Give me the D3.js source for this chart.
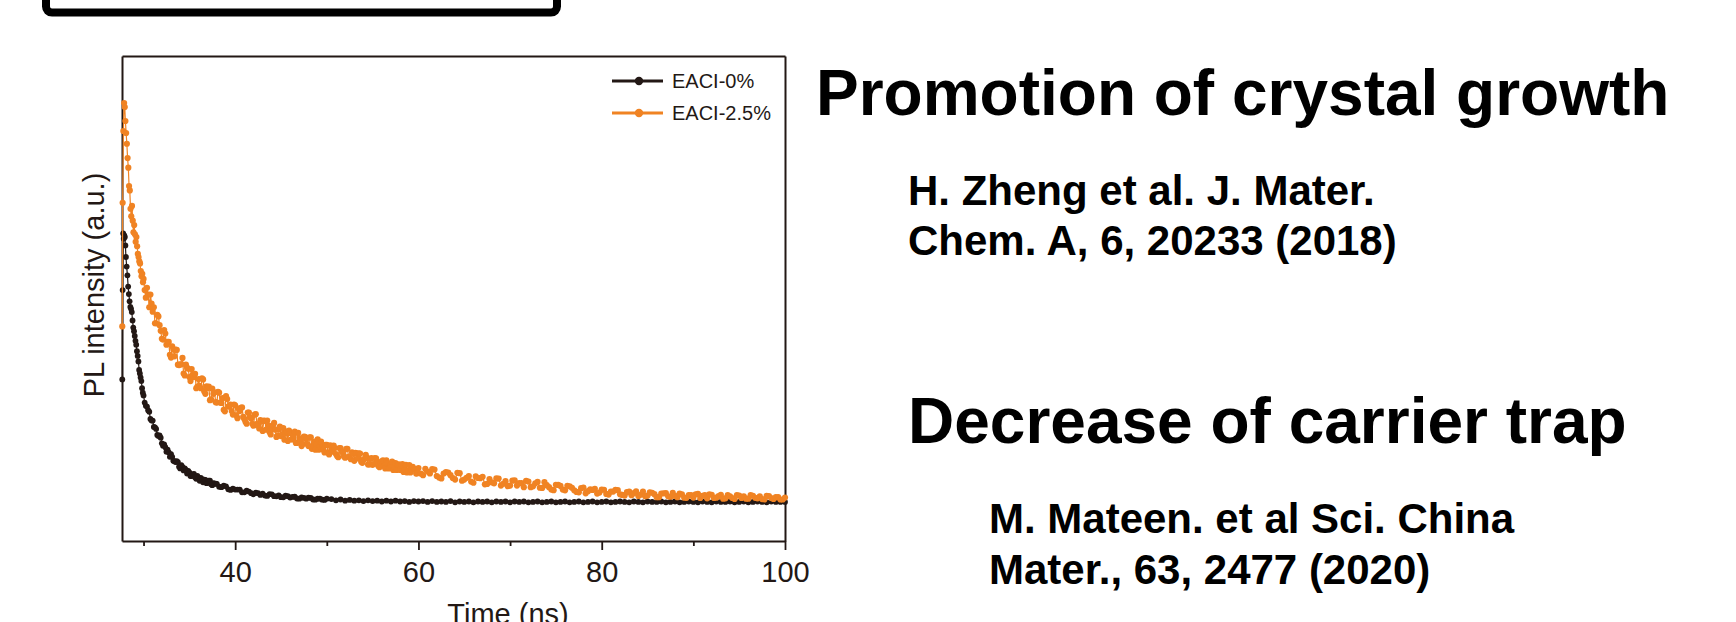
<!DOCTYPE html>
<html>
<head>
<meta charset="utf-8">
<script src="https://cdn.jsdelivr.net/npm/d3@7"></script>
<style>
  html, body { margin: 0; padding: 0; background: #fff; }
  svg { display: block; }
</style>
</head>
<body>
<svg id="chart" width="1736" height="622"></svg>
<script>
// ---- Data: time-resolved PL decay (time in ns, intensity in a.u.) ----
const seriesNames = ["EACI-0%", "EACI-2.5%"];
const xTicksMajor = [40, 60, 80, 100];
const xTicksMinor = [30, 50, 70, 90];

// EACI-0% : main sampling
const blackTime = [
  27.68,27.72,27.78,27.84,27.90,27.96,28.02,28.08,28.16,28.24,28.32,28.40,28.48,28.56,28.64,28.72,
  28.80,28.88,28.96,29.04,29.12,29.20,29.28,29.36,29.44,29.52,29.60,29.68,29.76,29.84,29.92,
  30,30.25,30.5,30.75,31,31.25,31.5,31.75,32,32.25,32.5,32.75,33,33.25,33.5,33.75,
  34,34.25,34.5,34.75,35,35.25,35.5,35.75,36,36.25,36.5,36.75,37,37.25,37.5,37.75,
  38,38.5,39,39.5,40,40.5,41,41.5,42,42.5,43,43.5,44,44.5,45,45.5,46,46.5,47,47.5,
  48,48.5,49,49.5,50,50.5,51,51.5,52,52.5,53,53.5,54,54.5,55,55.5,56,56.5,57,57.5,
  58,58.5,59,59.5,60,60.5,61,61.5,62,62.5,63,63.5,64,64.5,65,65.5,66,66.5,67,67.5,
  68,68.5,69,69.5,70,70.5,71,71.5,72,72.5,73,73.5,74,74.5,75,75.5,76,76.5,77,77.5,
  78,78.5,79,79.5,80,80.5,81,81.5,82,82.5,83,83.5,84,84.5,85,85.5,86,86.5,87,87.5,
  88,88.5,89,89.5,90,90.5,91,91.5,92,92.5,93,93.5,94,94.5,95,95.5,96,96.5,97,97.5,
  98,98.5,99,99.5,100
];
const blackPL = [
  0.307,0.531,0.673,0.660,0.668,0.664,0.643,0.614,0.590,0.568,0.540,0.521,0.503,0.489,0.484,0.476,
  0.455,0.437,0.428,0.416,0.404,0.394,0.378,0.366,0.352,0.331,0.322,0.312,0.303,0.285,0.274,
  0.267,0.241,0.230,0.208,0.204,0.187,0.168,0.167,0.147,0.144,0.126,0.124,0.120,0.103,0.100,0.100,
  0.084,0.088,0.084,0.071,0.074,0.065,0.070,0.058,0.060,0.060,0.049,0.055,0.048,0.053,0.042,0.046,
  0.045,0.037,0.039,0.030,0.031,0.031,0.024,0.026,0.019,0.022,0.021,0.015,0.019,0.014,0.012,0.016,0.011,0.013,0.008,0.010,
  0.0105,0.006,0.008,0.0055,0.008,0.007,0.004,0.006,0.003,0.005,0.003,0.004,0.002,0.004,0.002,0.003,0.001,0.003,0.001,0.003,
  0.001,0.002,0.000,0.002,0.001,0.002,0.000,0.002,0.000,0.001,0.000,0.002,-0.001,0.001,0.000,0.001,-0.001,0.001,0.000,0.001,
  -0.001,0.001,0.000,0.001,-0.001,0.001,0.000,0.001,-0.001,0.000,0.001,-0.001,0.000,0.001,-0.001,0.000,0.001,-0.001,0.000,0.001,
  -0.001,0.000,0.001,-0.001,0.000,0.001,-0.001,0.000,0.001,0.000,-0.001,0.001,0.000,-0.001,0.001,0.000,0.000,0.001,-0.001,0.000,
  0.001,-0.001,0.000,0.001,0.000,-0.001,0.001,0.000,-0.001,0.001,0.000,0.000,0.001,-0.001,0.000,0.001,-0.001,0.000,0.001,0.000,
  -0.001,0.001,0.000,0.000,0.000
];
// EACI-0% : in-between channels of the fast-decay region
const blackTimeMid = [
  30.125,30.375,30.625,30.875,31.125,31.375,31.625,31.875,32.125,32.375,32.625,32.875,33.125,33.375,33.625,33.875,
  34.125,34.375,34.625,34.875,35.125,35.375,35.625,35.875,36.125,36.375,36.625,36.875,37.125,37.375,37.625,37.875,
  38.25,38.75,39.25,39.75,40.25,40.75,41.25,41.75,42.25,42.75,43.25,43.75,44.25,44.75,45.25,45.75,
  46.25,46.75,47.25,47.75,48.25,48.75,49.25,49.75
];
const blackPLMid = [
  0.249,0.239,0.226,0.204,0.188,0.183,0.165,0.161,0.141,0.137,0.131,0.113,0.113,0.102,0.102,0.088,
  0.092,0.079,0.080,0.078,0.065,0.069,0.062,0.065,0.053,0.057,0.056,0.047,0.053,0.044,0.047,0.046,
  0.038,0.0405,0.0315,0.0335,0.031,0.024,0.028,0.022,0.023,0.0175,0.016,0.0195,0.0145,0.0165,0.0115,0.0145,
  0.0125,0.0085,0.0115,0.008,0.010,0.0055,0.008,0.005
];

// EACI-2.5% : main sampling
const orangeTime = [
  27.68,27.72,27.80,27.88,27.95,28.02,28.10,28.18,28.26,28.34,28.42,28.50,28.58,28.66,28.74,
  28.82,28.90,28.98,29.06,29.14,29.22,29.30,29.38,29.46,29.54,29.62,29.70,29.78,29.86,29.94,
  30,30.25,30.5,30.75,31,31.25,31.5,31.75,32,32.25,32.5,32.75,33,33.25,33.5,33.75,34,34.25,34.5,34.75,
  35,35.25,35.5,35.75,36,36.25,36.5,36.75,37,37.25,37.5,37.75,38,38.25,38.5,38.75,39,39.25,39.5,39.75,
  40,40.25,40.5,40.75,41,41.25,41.5,41.75,42,42.25,42.5,42.75,43,43.25,43.5,43.75,44,44.25,44.5,44.75,
  45,45.25,45.5,45.75,46,46.25,46.5,46.75,47,47.25,47.5,47.75,48,48.25,48.5,48.75,49,49.25,49.5,49.75,
  50,50.25,50.5,50.75,51,51.25,51.5,51.75,52,52.25,52.5,52.75,53,53.25,53.5,53.75,54,54.25,54.5,54.75,
  55,55.25,55.5,55.75,56,56.25,56.5,56.75,57,57.25,57.5,57.75,58,58.25,58.5,58.75,59,59.25,59.5,59.75,
  60,60.5,61,61.5,62,62.5,63,63.5,64,64.5,65,65.5,66,66.5,67,67.5,68,68.5,69,69.5,
  70,70.5,71,71.5,72,72.5,73,73.5,74,74.5,75,75.5,76,76.5,77,77.5,78,78.5,79,79.5,
  80,80.5,81,81.5,82,82.5,83,83.5,84,84.5,85,85.5,86,86.5,87,87.5,88,88.5,89,89.5,
  90,90.5,91,91.5,92,92.5,93,93.5,94,94.5,95,95.5,96,96.5,97,97.5,98,98.5,99,99.5,100
];
const orangePL = [
  0.440,0.750,0.930,1.000,0.990,0.955,0.925,0.898,0.862,0.838,0.792,0.781,0.735,0.716,0.742,
  0.705,0.676,0.694,0.671,0.652,0.664,0.641,0.622,0.614,0.603,0.598,0.579,0.566,0.572,0.551,
  0.559,0.512,0.520,0.520,0.477,0.448,0.469,0.443,0.409,0.431,0.394,0.401,0.362,0.382,0.382,0.344,0.345,0.361,0.317,0.336,
  0.313,0.333,0.313,0.285,0.308,0.285,0.307,0.271,0.285,0.255,0.284,0.275,0.249,0.274,0.248,0.231,0.265,0.239,0.244,0.219,
  0.242,0.210,0.228,0.237,0.208,0.196,0.224,0.209,0.191,0.220,0.192,0.205,0.178,0.203,0.204,0.175,0.182,0.198,0.163,0.182,
  0.165,0.185,0.171,0.153,0.173,0.157,0.176,0.148,0.160,0.140,0.164,0.158,0.140,0.162,0.142,0.131,0.157,0.139,0.143,0.124,
  0.143,0.119,0.134,0.141,0.120,0.112,0.135,0.124,0.111,0.133,0.113,0.124,0.103,0.122,0.122,0.101,0.106,0.118,0.094,0.108,
  0.093,0.110,0.099,0.087,0.102,0.090,0.104,0.084,0.093,0.080,0.097,0.093,0.080,0.095,0.081,0.074,0.092,0.080,0.083,0.071,
  0.085,0.067,0.076,0.082,0.065,0.059,0.075,0.067,0.056,0.072,0.056,0.065,0.048,0.060,0.063,0.045,0.049,0.059,0.041,0.052,
  0.041,0.054,0.047,0.037,0.051,0.039,0.050,0.035,0.042,0.031,0.043,0.040,0.029,0.039,0.029,0.024,0.036,0.027,0.030,0.021,
  0.031,0.020,0.026,0.030,0.019,0.016,0.026,0.022,0.015,0.026,0.016,0.023,0.012,0.021,0.022,0.013,0.015,0.021,0.0105,0.017,
  0.011,0.020,0.0155,0.009,0.018,0.0105,0.018,0.009,0.014,0.0075,0.016,0.014,0.008,0.0155,0.009,0.007,0.015,0.0095,0.012,0.006,0.011
];
// EACI-2.5% : in-between channels
const orangeTimeMid = [
  30.125,30.375,30.625,30.875,31.125,31.375,31.625,31.875,32.125,32.375,32.625,32.875,33.125,33.375,33.625,33.875,
  34.125,34.375,34.625,34.875,35.125,35.375,35.625,35.875,36.125,36.375,36.625,36.875,37.125,37.375,37.625,37.875,
  38.125,38.375,38.625,38.875,39.125,39.375,39.625,39.875,
  40.125,40.375,40.625,40.875,41.125,41.375,41.625,41.875,42.125,42.375,42.625,42.875,43.125,43.375,43.625,43.875,
  44.125,44.375,44.625,44.875,45.125,45.375,45.625,45.875,46.125,46.375,46.625,46.875,47.125,47.375,47.625,47.875,
  48.125,48.375,48.625,48.875,49.125,49.375,49.625,49.875,
  50.125,50.375,50.625,50.875,51.125,51.375,51.625,51.875,52.125,52.375,52.625,52.875,53.125,53.375,53.625,53.875,
  54.125,54.375,54.625,54.875,55.125,55.375,55.625,55.875,56.125,56.375,56.625,56.875,57.125,57.375,57.625,57.875,
  58.125,58.375,58.625,58.875,59.125,59.375,59.625,59.875,
  60.25,60.75,61.25,61.75,62.25,62.75,63.25,63.75,64.25,64.75,65.25,65.75,66.25,66.75,67.25,67.75,68.25,68.75,69.25,69.75,
  70.25,70.75,71.25,71.75,72.25,72.75,73.25,73.75,74.25,74.75,75.25,75.75,76.25,76.75,77.25,77.75,78.25,78.75,79.25,79.75,
  80.25,80.75,81.25,81.75,82.25,82.75,83.25,83.75,84.25,84.75,85.25,85.75,86.25,86.75,87.25,87.75,88.25,88.75,89.25,89.75,
  90.25,90.75,91.25,91.75,92.25,92.75,93.25,93.75,94.25,94.75,95.25,95.75,96.25,96.75,97.25,97.75,98.25,98.75,99.25,99.75
];
const orangePLMid = [
  0.531,0.537,0.488,0.497,0.488,0.448,0.465,0.429,0.407,0.422,0.401,0.369,0.390,0.365,0.381,0.343,
  0.345,0.322,0.344,0.334,0.303,0.319,0.321,0.289,0.291,0.310,0.277,0.290,0.289,0.257,0.271,0.250,
  0.276,0.249,0.260,0.227,0.258,0.241,0.228,0.244,
  0.217,0.234,0.236,0.213,0.201,0.224,0.212,0.196,0.219,0.196,0.184,0.202,0.204,0.181,0.192,0.169,
  0.192,0.181,0.166,0.189,0.170,0.156,0.176,0.179,0.157,0.166,0.148,0.173,0.155,0.145,0.163,0.145,
  0.162,0.133,0.151,0.145,0.131,0.151,0.131,0.143,
  0.124,0.142,0.126,0.135,0.115,0.135,0.126,0.114,0.133,0.113,0.107,0.121,0.123,0.109,0.121,0.098,
  0.108,0.111,0.094,0.110,0.095,0.109,0.090,0.099,0.104,0.084,0.096,0.085,0.101,0.087,0.080,0.094,
  0.091,0.075,0.093,0.078,0.074,0.088,0.081,0.072,
  0.071,0.083,0.0715,0.081,0.061,0.071,0.0735,0.060,0.073,0.053,0.0605,0.051,0.064,0.0595,0.044,0.0575,0.0465,0.0585,0.0455,0.0395,
  0.0535,0.041,0.047,0.053,0.037,0.0465,0.0355,0.0495,0.037,0.0295,0.0425,0.031,0.0405,0.0355,0.025,0.0345,0.0215,0.0315,0.033,0.0235,
  0.0305,0.0185,0.026,0.0295,0.0175,0.0245,0.017,0.0265,0.018,0.0145,0.024,0.0195,0.012,0.0215,0.014,0.0225,0.012,0.0188,0.0103,0.017,
  0.019,0.0098,0.0173,0.019,0.0098,0.0143,0.008,0.017,0.0098,0.0173,0.010,0.008,0.0168,0.0103,0.014,0.006,0.0148,0.0073,0.012,0.006
];

// ---- Layout ----
const ink = "#231815";
const colors = ["#231815", "#F08323"];
const markerR = [2.9, 3.1];
const plot = { left: 122, right: 785, top: 56, bottom: 541 };

const svg = d3.select("#chart");
svg.append("rect").attr("width", 1736).attr("height", 622).attr("fill", "#fff");

// rounded frame at the top-left corner
svg.append("rect")
  .attr("x", 46).attr("y", -30).attr("width", 511).attr("height", 42.6)
  .attr("rx", 6).attr("fill", "none").attr("stroke", "#000").attr("stroke-width", 8);

const x = d3.scaleLinear().domain([27.65, 100]).range([plot.left, plot.right]);
const y = d3.scaleLinear().domain([-0.098, 1.118]).range([plot.bottom, plot.top]);

function styleAxis(g) {
  g.select(".domain").attr("stroke", ink).attr("stroke-width", 2);
  g.selectAll(".tick line").attr("stroke", ink).attr("stroke-width", 1.8);
  g.selectAll(".tick text")
    .attr("fill", ink)
    .style("font-family", "'Liberation Sans', Arial, sans-serif")
    .style("font-size", "29px");
}

// frame: top and right borders, left axis without ticks
svg.append("g").attr("transform", `translate(0,${plot.top})`)
  .call(d3.axisTop(x).tickValues([]).tickSizeOuter(0)).call(styleAxis);
svg.append("g").attr("transform", `translate(${plot.right},0)`)
  .call(d3.axisRight(y).tickValues([]).tickSizeOuter(0)).call(styleAxis);
svg.append("g").attr("transform", `translate(${plot.left},0)`)
  .call(d3.axisLeft(y).tickValues([]).tickSizeOuter(0)).call(styleAxis);

// bottom axis: minor ticks then labelled major ticks
const minorAxis = svg.append("g").attr("transform", `translate(0,${plot.bottom})`)
  .call(d3.axisBottom(x).tickValues(xTicksMinor).tickSize(5).tickSizeOuter(0).tickFormat(""));
minorAxis.select(".domain").remove();
minorAxis.call(styleAxis);

const majorAxis = svg.append("g").attr("transform", `translate(0,${plot.bottom})`)
  .call(d3.axisBottom(x).tickValues(xTicksMajor).tickSize(9).tickSizeOuter(0).tickFormat(d3.format("d")));
majorAxis.call(styleAxis);
majorAxis.selectAll(".tick text").attr("y", 41).attr("dy", 0);

// axis titles
svg.append("text")
  .attr("x", 508).attr("y", 624)
  .attr("text-anchor", "middle")
  .attr("fill", ink)
  .style("font-family", "'Liberation Sans', Arial, sans-serif")
  .style("font-size", "29px")
  .text("Time (ns)");

svg.append("text")
  .attr("transform", "translate(103.5,285) rotate(-90)")
  .attr("text-anchor", "middle")
  .attr("fill", ink)
  .style("font-family", "'Liberation Sans', Arial, sans-serif")
  .style("font-size", "29px")
  .text("PL intensity (a.u.)");

// ---- Decay curves ----
const byTime = (a, b) => a[0] - b[0];
const series = [
  { name: seriesNames[0], color: colors[0], r: markerR[0],
    pts: d3.zip(blackTime, blackPL).concat(d3.zip(blackTimeMid, blackPLMid)).sort(byTime) },
  { name: seriesNames[1], color: colors[1], r: markerR[1],
    pts: d3.zip(orangeTime, orangePL).concat(d3.zip(orangeTimeMid, orangePLMid)).sort(byTime) }
];

const line = d3.line().x(d => x(d[0])).y(d => y(d[1]));

series.forEach(s => {
  const g = svg.append("g");
  g.append("path")
    .datum(s.pts)
    .attr("d", line)
    .attr("fill", "none")
    .attr("stroke", s.color)
    .attr("stroke-width", 1.2);
  g.selectAll("circle")
    .data(s.pts)
    .join("circle")
    .attr("cx", d => x(d[0]))
    .attr("cy", d => y(d[1]))
    .attr("r", s.r)
    .attr("fill", s.color);
});

// ---- Legend ----
const legend = svg.append("g");
series.forEach((s, i) => {
  const ly = 81 + i * 32;
  legend.append("line")
    .attr("x1", 612).attr("x2", 663).attr("y1", ly).attr("y2", ly)
    .attr("stroke", s.color).attr("stroke-width", 3);
  legend.append("circle")
    .attr("cx", 639).attr("cy", ly).attr("r", 4.2).attr("fill", s.color);
  legend.append("text")
    .attr("x", 672).attr("y", ly + 7)
    .attr("fill", ink)
    .style("font-family", "'Liberation Sans', Arial, sans-serif")
    .style("font-size", "20px")
    .text(s.name);
});

// ---- Notes on the right ----
const notes = [
  { text: "Promotion of crystal growth", x: 816, y: 115, size: 64 },
  { text: "H. Zheng et al. J. Mater.", x: 908, y: 205, size: 42 },
  { text: "Chem. A, 6, 20233 (2018)", x: 908, y: 255, size: 42 },
  { text: "Decrease of carrier trap", x: 908, y: 443, size: 64 },
  { text: "M. Mateen. et al Sci. China", x: 989, y: 533, size: 42 },
  { text: "Mater., 63, 2477 (2020)", x: 989, y: 584, size: 42 }
];
svg.append("g").selectAll("text")
  .data(notes)
  .join("text")
  .attr("x", d => d.x).attr("y", d => d.y)
  .attr("fill", "#000")
  .style("font-family", "'Liberation Sans', Arial, sans-serif")
  .style("font-weight", "bold")
  .style("font-size", d => d.size + "px")
  .text(d => d.text);
</script>
</body>
</html>
